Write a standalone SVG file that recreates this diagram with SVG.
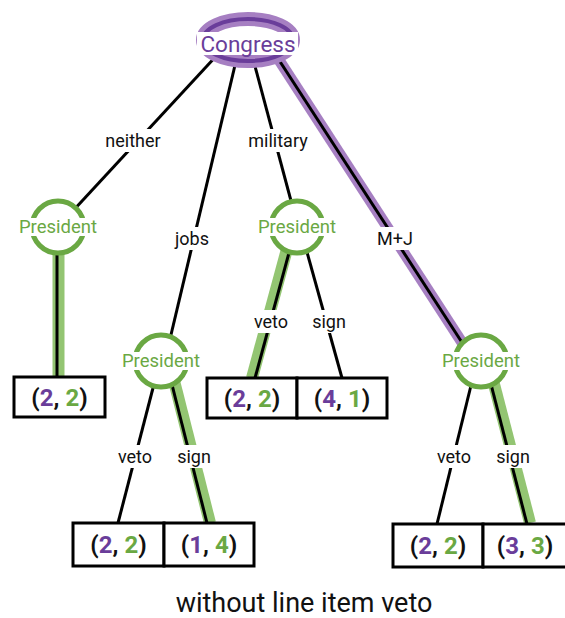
<svg xmlns="http://www.w3.org/2000/svg" width="565" height="618" viewBox="0 0 565 618">
<style>
.edge{stroke:#000;stroke-width:3;fill:none}
.hg{stroke:#93c572;stroke-width:12;fill:none}
.hp{stroke:#a67fc2;stroke-width:11;fill:none}
.lb{fill:#fff}
.lt{font-family:Roboto,"Liberation Sans",sans-serif;font-size:18px;fill:#111;text-anchor:middle}
.ring{fill:#fff;stroke:#6aa843;stroke-width:5}
.pt{font-family:Roboto,"Liberation Sans",sans-serif;font-size:18.5px;fill:#6aa843;text-anchor:middle}
.box{fill:#fff;stroke:#000;stroke-width:3}
.bt{font-family:Roboto,"Liberation Sans",sans-serif;font-size:24px;font-weight:bold;fill:#111;text-anchor:middle}
.pu{fill:#6a3d9a}
.gr{fill:#6aa843}
</style>
<rect width="565" height="618" fill="#fff"/>
<g id="connectors">
  <line class="hp" x1="266" y1="40" x2="474" y2="361"/>
  <line class="hg" x1="58.5" y1="227" x2="58.5" y2="378"/>
  <line class="hg" x1="293" y1="227" x2="252" y2="378"/>
  <line class="hg" x1="169" y1="361" x2="210" y2="523"/>
  <line class="hg" x1="488" y1="361" x2="530" y2="523"/>
  <line class="edge" x1="231" y1="40" x2="58" y2="227"/>
  <line class="edge" x1="241" y1="40" x2="165" y2="360"/>
  <line class="edge" x1="248" y1="40" x2="298" y2="227"/>
  <line class="edge" x1="266" y1="40" x2="474" y2="361"/>
  <line class="edge" x1="57" y1="227" x2="57" y2="378"/>
  <line class="edge" x1="296" y1="227" x2="255" y2="378"/>
  <line class="edge" x1="300" y1="227" x2="342" y2="378"/>
  <line class="edge" x1="160" y1="361" x2="118" y2="523"/>
  <line class="edge" x1="166" y1="361" x2="207" y2="523"/>
  <line class="edge" x1="477" y1="361" x2="437" y2="524"/>
  <line class="edge" x1="485" y1="361" x2="527" y2="524"/>
  <rect class="lb" x="100" y="129" width="66" height="23"/>
  <text class="lt" x="133" y="147">neither</text>
  <rect class="lb" x="242" y="129" width="72" height="23"/>
  <text class="lt" x="278" y="147">military</text>
  <rect class="lb" x="170" y="227" width="44" height="23"/>
  <text class="lt" x="192" y="245">jobs</text>
  <rect class="lb" x="372" y="227" width="46" height="23"/>
  <text class="lt" x="395" y="245">M+J</text>
  <rect class="lb" x="249" y="310" width="44" height="23"/>
  <text class="lt" x="271" y="328">veto</text>
  <rect class="lb" x="309" y="310" width="40" height="23"/>
  <text class="lt" x="329" y="328">sign</text>
  <rect class="lb" x="113" y="445" width="44" height="23"/>
  <text class="lt" x="135" y="463">veto</text>
  <rect class="lb" x="174" y="445" width="40" height="23"/>
  <text class="lt" x="194" y="463">sign</text>
  <rect class="lb" x="432" y="445" width="44" height="23"/>
  <text class="lt" x="454" y="463">veto</text>
  <rect class="lb" x="493" y="445" width="40" height="23"/>
  <text class="lt" x="513" y="463">sign</text>
</g>
<g id="congress">
  <ellipse cx="248" cy="40" rx="45" ry="21" fill="#fff" stroke="#a67fc2" stroke-width="14"/>
  <ellipse cx="248" cy="40" rx="45" ry="21" fill="none" stroke="#6a3d9a" stroke-width="4"/>
  <rect x="197" y="32" width="101" height="23" fill="#fff"/>
  <text x="248" y="52" font-family="Roboto,'Liberation Sans',sans-serif" font-size="22.5" fill="#6a3d9a" text-anchor="middle">Congress</text>
</g>
<g id="president-neither">
  <circle class="ring" cx="58" cy="227" r="26"/>
  <rect x="18" y="218" width="80" height="18" fill="#fff"/>
  <text class="pt" x="58" y="233">President</text>
</g>
<g id="president-military">
  <circle class="ring" cx="297" cy="227" r="26"/>
  <rect x="257" y="218" width="80" height="18" fill="#fff"/>
  <text class="pt" x="297" y="233">President</text>
</g>
<g id="president-jobs">
  <circle class="ring" cx="161" cy="361" r="26"/>
  <rect x="121" y="352" width="80" height="18" fill="#fff"/>
  <text class="pt" x="161" y="367">President</text>
</g>
<g id="president-mj">
  <circle class="ring" cx="481" cy="361" r="26"/>
  <rect x="441" y="352" width="80" height="18" fill="#fff"/>
  <text class="pt" x="481" y="367">President</text>
</g>
<g id="leaf-neither">
  <rect class="box" x="14" y="377" width="91" height="40"/>
  <text class="bt" x="59.5" y="406">(<tspan class="pu">2</tspan>, <tspan class="gr">2</tspan>)</text>
</g>
<g id="leaf-military-veto">
  <rect class="box" x="207" y="378" width="90" height="40"/>
  <text class="bt" x="252" y="407">(<tspan class="pu">2</tspan>, <tspan class="gr">2</tspan>)</text>
</g>
<g id="leaf-military-sign">
  <rect class="box" x="297" y="378" width="90" height="40"/>
  <text class="bt" x="342" y="407">(<tspan class="pu">4</tspan>, <tspan class="gr">1</tspan>)</text>
</g>
<g id="leaf-jobs-veto">
  <rect class="box" x="73" y="523" width="91" height="43"/>
  <text class="bt" x="118.5" y="553">(<tspan class="pu">2</tspan>, <tspan class="gr">2</tspan>)</text>
</g>
<g id="leaf-jobs-sign">
  <rect class="box" x="164" y="523" width="90" height="43"/>
  <text class="bt" x="209" y="553">(<tspan class="pu">1</tspan>, <tspan class="gr">4</tspan>)</text>
</g>
<g id="leaf-mj-veto">
  <rect class="box" x="393" y="524" width="90" height="43"/>
  <text class="bt" x="438" y="554">(<tspan class="pu">2</tspan>, <tspan class="gr">2</tspan>)</text>
</g>
<g id="leaf-mj-sign">
  <rect class="box" x="483" y="524" width="84" height="43"/>
  <text class="bt" x="525" y="554">(<tspan class="pu">3</tspan>, <tspan class="gr">3</tspan>)</text>
</g>
<text x="304" y="612" font-family="Roboto,'Liberation Sans',sans-serif" font-size="27" fill="#111" text-anchor="middle">without line item veto</text>
</svg>
